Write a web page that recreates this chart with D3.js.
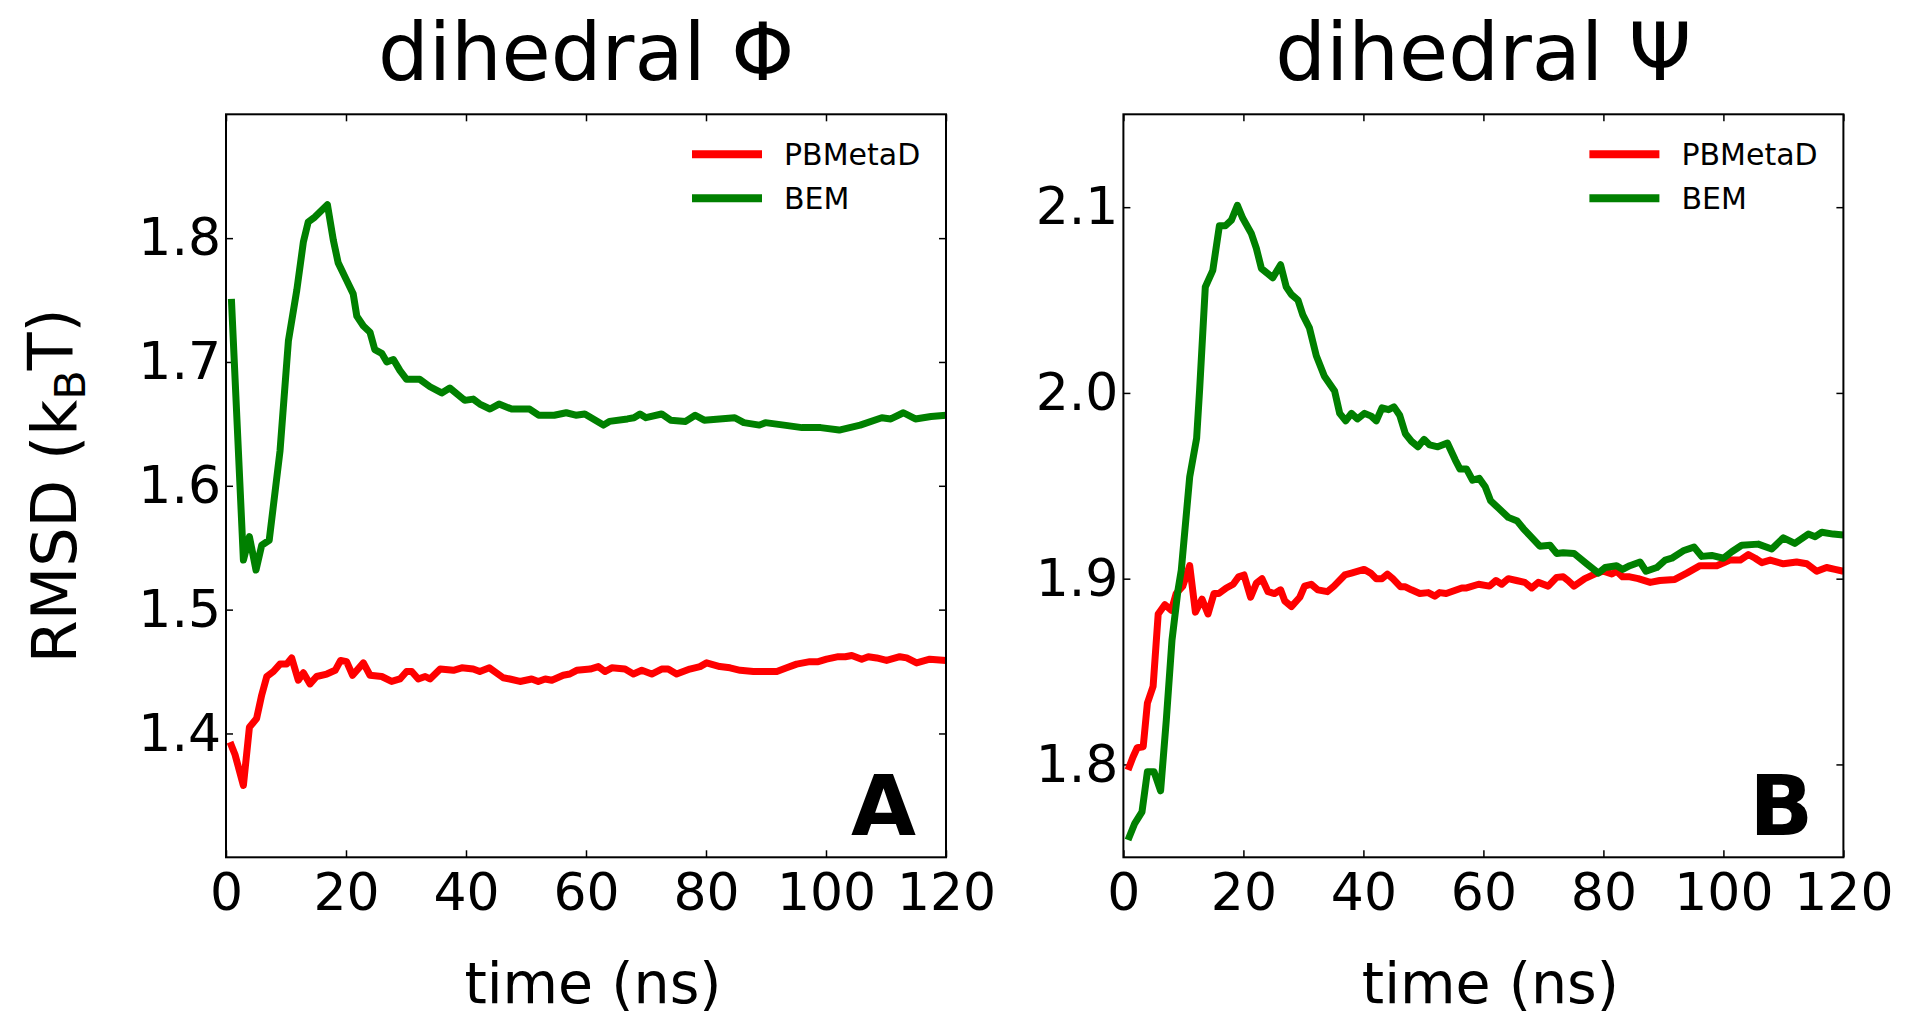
<!DOCTYPE html>
<html>
<head>
<meta charset="utf-8">
<script src="https://cdn.jsdelivr.net/npm/d3@7"></script>
<style>
  html, body { margin: 0; padding: 0; background: #fff; }
  svg { display: block; font-family: "DejaVu Sans", sans-serif; }
</style>
</head>
<body>
<svg id="fig" width="1906" height="1017"></svg>
<script>
// Running RMSD of the free-energy estimate (kBT) versus simulation time (ns)

// dihedral Phi, PBMetaD
const phiTimePB = [0.67, 1.5, 2.9, 3.9, 5.1, 5.95, 6.8, 7.9, 9.0, 10.1, 10.95, 12.05, 12.9, 14.0, 15.1, 16.8, 18.2, 19.1, 20.1, 21.1, 22.9, 24.0, 25.95, 27.6, 29.0, 30.1, 30.95, 32.05, 33.2, 34.0, 35.7, 37.9, 39.3, 41.2, 42.3, 43.9, 46.2, 47.3, 49.0, 50.95, 52.05, 53.2, 54.3, 56.2, 57.3, 58.45, 60.7, 62.05, 63.2, 64.3, 66.5, 67.9, 69.3, 70.95, 72.6, 73.7, 75.1, 77.3, 79.0, 80.1, 82.3, 84.0, 85.7, 87.9, 89.55, 91.8, 93.45, 95.1, 97.3, 98.7, 100.1, 102.05, 103.2, 104.3, 105.95, 107.05, 108.45, 110.1, 112.3, 113.45, 115.1, 117.3, 120];
const phiRmsdPB = [1.393, 1.383, 1.358, 1.405, 1.412, 1.431, 1.446, 1.450, 1.456, 1.456, 1.461, 1.443, 1.449, 1.440, 1.446, 1.448, 1.451, 1.459, 1.458, 1.447, 1.457, 1.447, 1.446, 1.442, 1.444, 1.450, 1.450, 1.444, 1.446, 1.444, 1.452, 1.451, 1.453, 1.452, 1.450, 1.453, 1.445, 1.444, 1.442, 1.444, 1.442, 1.444, 1.443, 1.447, 1.448, 1.451, 1.452, 1.454, 1.450, 1.453, 1.452, 1.448, 1.451, 1.448, 1.452, 1.452, 1.448, 1.452, 1.454, 1.457, 1.454, 1.453, 1.451, 1.450, 1.450, 1.450, 1.453, 1.456, 1.458, 1.458, 1.460, 1.462, 1.462, 1.463, 1.460, 1.462, 1.461, 1.459, 1.462, 1.461, 1.457, 1.460, 1.459];

// dihedral Phi, BEM
const phiTimeBEM = [0.9, 2.9, 3.9, 5.0, 5.95, 7.2, 9.0, 10.4, 11.8, 12.9, 13.7, 14.8, 16.9, 17.9, 18.7, 20.1, 21.2, 21.8, 22.9, 24.0, 24.8, 25.95, 26.8, 27.9, 29.0, 30.1, 32.3, 34.0, 35.95, 37.3, 39.8, 41.2, 42.3, 44.0, 45.5, 47.6, 50.6, 52.1, 54.7, 56.7, 58.3, 59.8, 62.9, 63.9, 66.9, 68.0, 69.0, 70.0, 72.6, 74.1, 76.6, 78.2, 79.7, 84.8, 86.3, 88.9, 89.9, 93.0, 96.0, 99.1, 102.2, 105.7, 109.3, 110.8, 112.9, 114.9, 117.5, 120];
const phiRmsdBEM = [1.751, 1.540, 1.559, 1.532, 1.552, 1.556, 1.628, 1.717, 1.758, 1.797, 1.813, 1.817, 1.827, 1.798, 1.780, 1.766, 1.755, 1.737, 1.729, 1.724, 1.710, 1.707, 1.700, 1.702, 1.693, 1.686, 1.686, 1.680, 1.675, 1.679, 1.669, 1.670, 1.666, 1.662, 1.666, 1.662, 1.662, 1.657, 1.657, 1.659, 1.657, 1.658, 1.649, 1.652, 1.654, 1.655, 1.658, 1.655, 1.658, 1.653, 1.652, 1.657, 1.653, 1.655, 1.651, 1.649, 1.651, 1.649, 1.647, 1.647, 1.645, 1.649, 1.655, 1.654, 1.659, 1.654, 1.656, 1.657];

// dihedral Psi, PBMetaD
const psiTimePB = [0.77, 1.6, 2.3, 3.3, 4.0, 4.95, 5.8, 6.9, 8.0, 8.8, 9.9, 11.05, 12.0, 13.1, 14.1, 15.1, 15.9, 17.15, 18.3, 19.2, 20.1, 21.2, 22.15, 23.1, 24.1, 25.2, 26.2, 26.9, 28.0, 29.4, 30.2, 31.3, 32.4, 34.0, 35.1, 36.9, 38.0, 40.1, 41.2, 42.15, 43.1, 44.0, 44.9, 46.2, 47.0, 48.0, 49.4, 50.8, 51.9, 52.7, 53.8, 56.4, 57.2, 59.2, 61.0, 62.1, 63.05, 64.15, 65.5, 66.9, 68.05, 69.15, 70.8, 72.2, 73.3, 74.1, 75.1, 76.9, 78.9, 80.0, 81.4, 82.2, 83.2, 84.4, 85.8, 87.8, 89.4, 91.9, 93.9, 96.1, 97.2, 98.9, 101.1, 102.8, 104.15, 105.3, 106.4, 107.8, 110.0, 112.2, 113.9, 115.55, 117.2, 118.6, 120];
const psiRmsdPB = [1.797, 1.804, 1.809, 1.8095, 1.833, 1.842, 1.881, 1.886, 1.883, 1.892, 1.896, 1.907, 1.882, 1.889, 1.881, 1.892, 1.892, 1.895, 1.897, 1.901, 1.902, 1.890, 1.8975, 1.900, 1.893, 1.892, 1.894, 1.888, 1.885, 1.890, 1.896, 1.897, 1.894, 1.893, 1.896, 1.902, 1.903, 1.905, 1.903, 1.900, 1.900, 1.9025, 1.900, 1.8956, 1.8956, 1.894, 1.892, 1.8925, 1.8906, 1.8925, 1.892, 1.895, 1.895, 1.897, 1.896, 1.899, 1.897, 1.900, 1.899, 1.898, 1.895, 1.898, 1.896, 1.9007, 1.901, 1.899, 1.896, 1.900, 1.903, 1.904, 1.9025, 1.904, 1.901, 1.901, 1.900, 1.898, 1.899, 1.8996, 1.903, 1.907, 1.907, 1.907, 1.910, 1.910, 1.913, 1.911, 1.9086, 1.910, 1.908, 1.909, 1.908, 1.904, 1.906, 1.905, 1.904];

// dihedral Psi, BEM
const psiTimeBEM = [0.77, 1.9, 3.1, 4.0, 5.1, 6.2, 7.15, 8.1, 9.1, 9.65, 11.05, 12.2, 12.7, 13.65, 14.9, 16.0, 17.0, 18.0, 19.0, 19.9, 21.3, 22.15, 23.0, 24.9, 26.2, 27.15, 28.0, 29.1, 29.9, 31.0, 32.15, 33.5, 35.2, 36.05, 37.05, 38.0, 39.0, 40.2, 41.3, 42.15, 43.1, 44.2, 45.1, 46.05, 47.0, 48.0, 49.1, 50.1, 51.05, 52.4, 54.0, 55.3, 56.1, 57.2, 58.2, 59.3, 60.3, 61.2, 62.5, 64.15, 65.65, 66.65, 67.8, 69.4, 71.1, 72.2, 73.3, 75.1, 77.2, 79.15, 80.3, 82.2, 83.2, 84.4, 86.1, 87.1, 88.9, 90.3, 91.4, 93.3, 95.1, 96.4, 98.05, 100.0, 101.4, 103.05, 105.8, 108.05, 110.0, 111.9, 114.15, 115.3, 116.4, 118.3, 120];
const psiRmsdBEM = [1.7593, 1.7683, 1.7745, 1.7961, 1.7961, 1.7858, 1.8239, 1.867, 1.8939, 1.9046, 1.9548, 1.9755, 2.0015, 2.057, 2.066, 2.090, 2.090, 2.093, 2.101, 2.094, 2.086, 2.078, 2.067, 2.062, 2.069, 2.057, 2.053, 2.050, 2.042, 2.035, 2.020, 2.009, 2.001, 1.989, 1.985, 1.989, 1.986, 1.989, 1.9875, 1.985, 1.992, 1.991, 1.9925, 1.988, 1.978, 1.974, 1.971, 1.975, 1.972, 1.971, 1.973, 1.964, 1.959, 1.959, 1.953, 1.954, 1.9495, 1.942, 1.938, 1.933, 1.931, 1.927, 1.923, 1.9175, 1.918, 1.9136, 1.914, 1.9136, 1.908, 1.903, 1.906, 1.907, 1.905, 1.907, 1.909, 1.904, 1.906, 1.910, 1.911, 1.915, 1.917, 1.912, 1.9125, 1.911, 1.9145, 1.918, 1.9186, 1.916, 1.922, 1.919, 1.924, 1.9226, 1.925, 1.924, 1.9235];

const timeTicks = [0, 20, 40, 60, 80, 100, 120];
const phiTicks = [1.4, 1.5, 1.6, 1.7, 1.8];
const psiTicks = [1.8, 1.9, 2.0, 2.1];
const seriesNames = ["PBMetaD", "BEM"];
const seriesColors = ["#ff0000", "#008000"];
const panelTitles = ["dihedral \u03A6", "dihedral \u03A8"];
const panelLetters = ["A", "B"];

const zip = (ts, vs) => ts.map((t, i) => ({ t, v: vs[i] }));

const panels = [
  {
    left: 226, yDomain: [1.3, 1.9], yTicks: phiTicks,
    series: [zip(phiTimePB, phiRmsdPB), zip(phiTimeBEM, phiRmsdBEM)],
    title: panelTitles[0], letter: panelLetters[0], ylabel: true
  },
  {
    left: 1123.4, yDomain: [1.75, 2.15], yTicks: psiTicks,
    series: [zip(psiTimePB, psiRmsdPB), zip(psiTimeBEM, psiRmsdBEM)],
    title: panelTitles[1], letter: panelLetters[1], ylabel: false
  }
];

const plotW = 720, plotTop = 114.3, plotH = 743;
const svg = d3.select("#fig");

panels.forEach(p => {
  const g = svg.append("g").attr("transform", `translate(${p.left},${plotTop})`);
  const x = d3.scaleLinear().domain([0, 120]).range([0, plotW]);
  const y = d3.scaleLinear().domain(p.yDomain).range([plotH, 0]);

  // axes with inward ticks on all four sides
  const styleAxis = sel => {
    sel.select(".domain").remove();
    sel.selectAll(".tick line").attr("stroke", "#000").attr("stroke-width", 1.5);
    sel.selectAll(".tick text").attr("fill", "#000")
      .style("font-family", "DejaVu Sans").style("font-size", "52px");
  };
  g.append("g").attr("transform", `translate(0,${plotH})`)
    .call(d3.axisBottom(x).tickValues(timeTicks).tickFormat(d3.format("d"))
      .tickSizeInner(-7).tickSizeOuter(0).tickPadding(16))
    .call(styleAxis);
  g.append("g")
    .call(d3.axisTop(x).tickValues(timeTicks).tickFormat("")
      .tickSizeInner(-7).tickSizeOuter(0))
    .call(styleAxis);
  g.append("g")
    .call(d3.axisLeft(y).tickValues(p.yTicks).tickFormat(d3.format(".1f"))
      .tickSizeInner(-7).tickSizeOuter(0).tickPadding(5))
    .call(styleAxis);
  g.append("g").attr("transform", `translate(${plotW},0)`)
    .call(d3.axisRight(y).tickValues(p.yTicks).tickFormat("")
      .tickSizeInner(-7).tickSizeOuter(0))
    .call(styleAxis);

  // data lines
  const line = d3.line().x(d => x(d.t)).y(d => y(d.v));
  p.series.forEach((s, i) => {
    g.append("path").datum(s)
      .attr("d", line)
      .attr("fill", "none")
      .attr("stroke", seriesColors[i])
      .attr("stroke-width", 7)
      .attr("stroke-linejoin", "round");
  });

  // frame
  g.append("rect").attr("x", 0).attr("y", 0).attr("width", plotW).attr("height", plotH)
    .attr("fill", "none").attr("stroke", "#000").attr("stroke-width", 2);

  // legend
  const lg = g.append("g").attr("transform", "translate(466,40)");
  seriesNames.forEach((name, i) => {
    const row = lg.append("g").attr("transform", `translate(0,${i * 44})`);
    row.append("line").attr("x1", 0).attr("x2", 70).attr("y1", 0).attr("y2", 0)
      .attr("stroke", seriesColors[i]).attr("stroke-width", 8);
    row.append("text").attr("x", 92).attr("y", 11)
      .style("font-size", "30px").attr("fill", "#000").text(name);
  });

  // panel letter
  g.append("text").attr("x", plotW - 30).attr("y", plotH - 22)
    .attr("text-anchor", "end").style("font-size", "84px").style("font-weight", "bold")
    .text(p.letter);

  // title
  svg.append("text").attr("x", p.left + plotW / 2).attr("y", 80)
    .attr("text-anchor", "middle").style("font-size", "80px").text(p.title);

  // x-axis label
  svg.append("text").attr("x", p.left + plotW / 2 + 7).attr("y", 1003)
    .attr("text-anchor", "middle").style("font-size", "57px").text("time (ns)");

  if (p.ylabel) {
    const t = svg.append("text")
      .attr("transform", `translate(76,${plotTop + plotH / 2}) rotate(-90)`)
      .attr("text-anchor", "middle").style("font-size", "62px");
    t.append("tspan").text("RMSD (k");
    t.append("tspan").attr("dy", "0.22em").style("font-size", "43px").text("B");
    t.append("tspan").attr("dy", "-0.22em").text("T)");
  }
});
</script>
</body>
</html>
